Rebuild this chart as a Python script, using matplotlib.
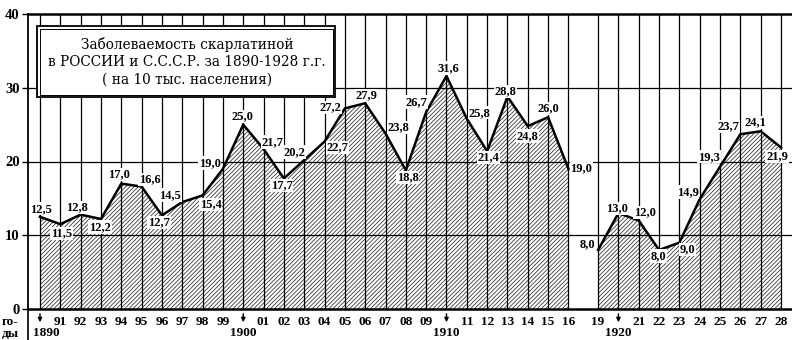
import matplotlib
matplotlib.use("Agg")
import matplotlib.pyplot as plt
from matplotlib.patches import Rectangle
from matplotlib.lines import Line2D

plt.rcParams['font.family'] = ['Liberation Serif', 'DejaVu Serif']
plt.rcParams['hatch.linewidth'] = 0.55
plt.rcParams['hatch.color'] = '#2a2a2a'

# data (cases per 10 000 inhabitants)
years_a = [1890, 1891, 1892, 1893, 1894, 1895, 1896, 1897, 1898, 1899,
           1900, 1901, 1902, 1903, 1904, 1905, 1906, 1907, 1908, 1909,
           1910, 1911, 1912, 1913, 1914, 1915, 1916]
rate_a = [12.5, 11.5, 12.8, 12.2, 17.0, 16.6, 12.7, 14.5, 15.4, 19.0,
          25.0, 21.7, 17.7, 20.2, 22.7, 27.2, 27.9, 23.8, 18.8, 26.7,
          31.6, 25.8, 21.4, 28.8, 24.8, 26.0, 19.0]
years_b = [1919, 1920, 1921, 1922, 1923, 1924, 1925, 1926, 1927, 1928]
rate_b = [8.0, 13.0, 12.0, 8.0, 9.0, 14.9, 19.3, 23.7, 24.1, 21.9]

short_labels_a = ['', '91', '92', '93', '94', '95', '96', '97', '98', '99',
                  '', '01', '02', '03', '04', '05', '06', '07', '08', '09',
                  '', '11', '12', '13', '14', '15', '16']
short_labels_b = ['19', '', '21', '22', '23', '24', '25', '26', '27', '28']
decades = [1890, 1900, 1910, 1920]
decade_dx = [6, 0, 0, 0]

title_lines = ['Заболеваемость скарлатиной',
               'в РОССИИ и С.С.С.Р. за 1890-1928 г.г.',
               '( на 10 тыс. населения)']

# label offsets in pixels (dx, dy) from each point
off_a = [(1, 8), (1, -9), (-4, 7), (-1, -8), (-2, 9), (8, 7), (-3, -7), (-12, 7), (8, -9), (-13, 6),
         (-1, 8), (9, 7), (-2, -7), (-10, 8), (13, -6), (-14, 1), (1, 8), (13, 6), (2, -7), (-10, 10),
         (2, 8), (13, 6), (1, -6), (-2, 5), (0, -10), (0, 9), (13, 1)]
off_b = [(-11, 6), (-1, 5), (6, 8), (-1, -6), (8, -7), (-12, 7), (-11, 10), (-12, 8), (-5, 9), (-4, -9)]

GAP = 1.54  # 1917-1918 squeezed out of the axis


def xpos(y):
    return y - 1890 - (GAP if y > 1916 else 0)


W, H = 792, 340


def fx(px):
    return px / W


def fy(py):
    return 1 - py / H


fig = plt.figure(figsize=(W / 100, H / 100), dpi=100)
ax = fig.add_axes([fx(28), fy(309), fx(792 - 28), (309 - 14) / H])

pos_a = [xpos(y) for y in years_a]
pos_b = [xpos(y) for y in years_b]
all_pos = pos_a + pos_b

ax.set_xlim(-0.59, 37.0)
ax.set_ylim(0, 40)

for p, r in ((pos_a, rate_a), (pos_b, rate_b)):
    ax.fill_between(p, r, 0, facecolor='white', edgecolor='#2a2a2a',
                    hatch='////////', linewidth=0, zorder=1)

ax.vlines(all_pos, 0, 40, colors='black', lw=0.9, zorder=2)
ax.hlines([10, 20, 30], -0.59, 37.0, colors='black', lw=0.9, zorder=2)

ax.plot(pos_a, rate_a, color='black', lw=1.8, zorder=3, solid_joinstyle='miter')
ax.plot(pos_b, rate_b, color='black', lw=1.8, zorder=3, solid_joinstyle='miter')

for p, r, o in list(zip(pos_a, rate_a, off_a)) + list(zip(pos_b, rate_b, off_b)):
    ax.annotate(f"{r:.1f}".replace('.', ','), (p, r), xytext=o,
                textcoords='offset pixels', ha='center', va='center',
                fontsize=9, fontweight='bold', zorder=5,
                bbox=dict(boxstyle='square,pad=0.05', fc='white', ec='none'))

# axes look
for s in ('top', 'bottom'):
    ax.spines[s].set_linewidth(1.8)
ax.spines['left'].set_linewidth(1.3)
ax.spines['right'].set_visible(False)

ax.set_yticks([0, 10, 20, 30, 40])
ax.set_yticklabels(['0', '10', '20', '30', '40'], fontsize=10.5, fontweight='bold')
ax.tick_params(axis='y', length=4, width=1, pad=2)

ax.set_xticks(all_pos)
ax.set_xticklabels(short_labels_a + short_labels_b, fontsize=9.5, fontweight='bold')
ax.tick_params(axis='x', length=0, pad=5)

for d, dx in zip(decades, decade_dx):
    p = xpos(d)
    ax.annotate('', xy=(p, -16), xycoords=('data', 'axes pixels'),
                xytext=(p, -2), textcoords=('data', 'axes pixels'),
                arrowprops=dict(arrowstyle='-|>', color='black', lw=1, mutation_scale=6))
    ax.annotate(str(d), xy=(p, -24), xycoords=('data', 'axes pixels'),
                xytext=(dx, 0), textcoords='offset pixels',
                ha='center', va='center', fontsize=9.5, fontweight='bold',
                annotation_clip=False)

fig.text(fx(2), fy(322), 'го-', fontsize=9.5, fontweight='bold', va='center')
fig.text(fx(2), fy(334), 'ды', fontsize=9.5, fontweight='bold', va='center')
fig.add_artist(Line2D([fx(28), fx(28)], [0, fy(309)], color='black', lw=1.2))

# title box with double frame
outer = Rectangle((fx(37), fy(97)), fx(335 - 37), (97 - 26) / H, transform=fig.transFigure,
                  fc='white', ec='black', lw=1.3, zorder=6, clip_on=False)
inner = Rectangle((fx(39.5), fy(94.5)), fx(332.5 - 39.5), (94.5 - 28.5) / H,
                  transform=fig.transFigure, fc='none', ec='black', lw=0.7, zorder=6, clip_on=False)
ax.add_patch(outer)
ax.add_patch(inner)
for i, line in enumerate(title_lines):
    ax.text(fx(187), fy(44 + 18 * i), line, transform=fig.transFigure, ha='center', va='center',
            fontsize=9.8, family='DejaVu Serif', zorder=7)

fig.savefig('out.png', dpi=100)
